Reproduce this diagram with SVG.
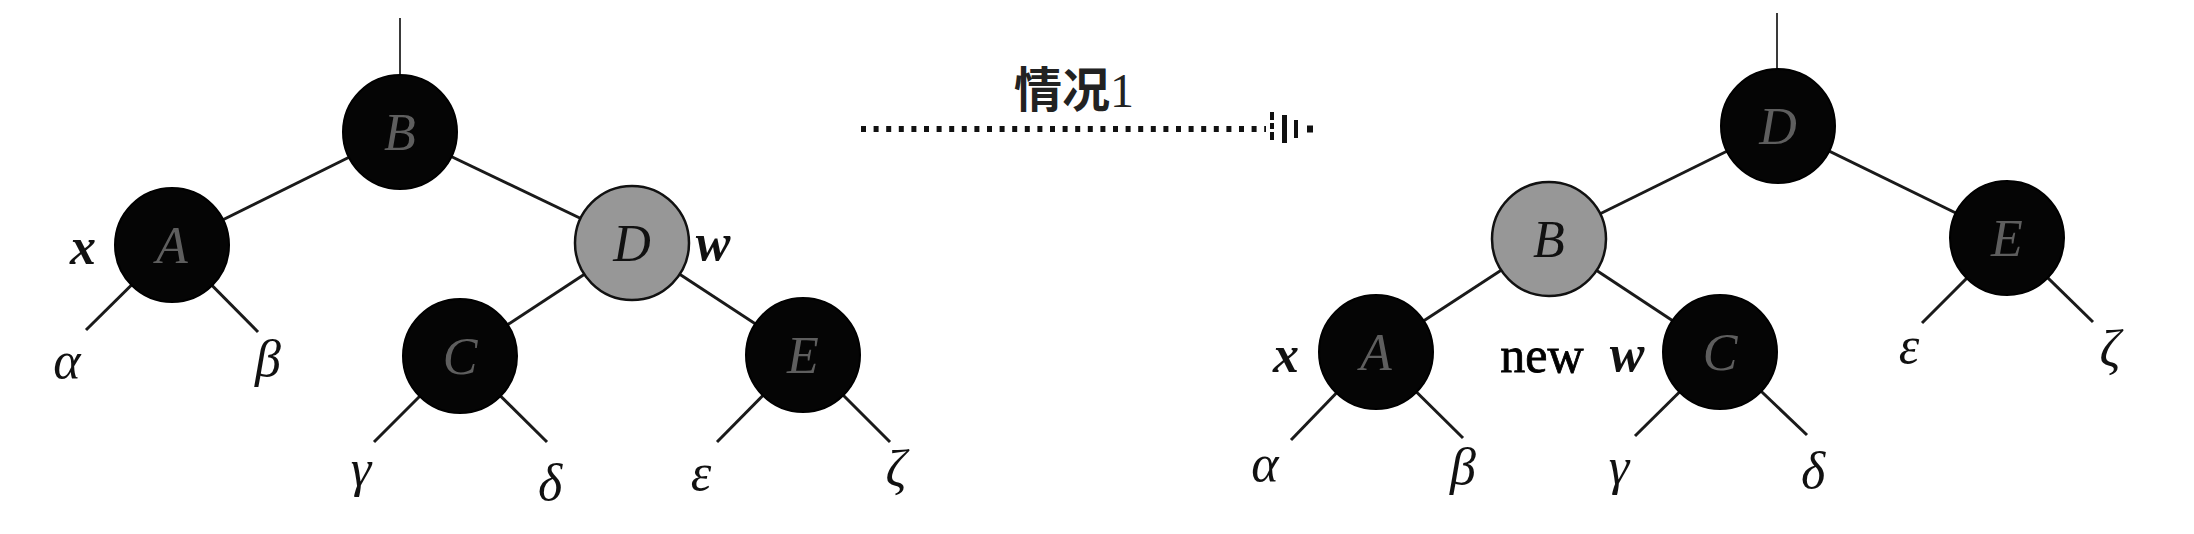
<svg xmlns="http://www.w3.org/2000/svg" width="2194" height="534" viewBox="0 0 2194 534">
<style>
.edge{stroke:#1a1a1a;stroke-width:3;fill:none}
.top{stroke:#3a3a3a;stroke-width:2;fill:none}
.blk{fill:#050505;stroke:#000;stroke-width:2}
.gry{fill:#979797;stroke:#111;stroke-width:2.5}
.nl{font-family:"Liberation Serif",serif;font-style:italic;font-size:52px;text-anchor:middle}
.nlb{fill:#5e5e5e}
.nlg{fill:#111}
.lab{font-family:"Liberation Serif",serif;font-style:italic;font-size:52px;text-anchor:middle;fill:#111}
.bold{font-weight:bold}
.up{font-family:"Liberation Serif",serif;font-size:50px;text-anchor:middle;fill:#000;stroke:#000;stroke-width:0.8}
.cap{font-family:"Liberation Serif","Noto Sans CJK SC",sans-serif;font-size:48px;font-weight:bold;fill:#222}
</style>
<rect width="2194" height="534" fill="#fff"/>
<g id="connectors">
  <!-- left tree -->
  <line class="top" x1="400" y1="18" x2="400" y2="80"/>
  <line class="edge" x1="400" y1="132" x2="172" y2="245"/>
  <line class="edge" x1="400" y1="132" x2="632" y2="243"/>
  <line class="edge" x1="632" y1="243" x2="460" y2="356"/>
  <line class="edge" x1="632" y1="243" x2="803" y2="355"/>
  <line class="edge" x1="172" y1="245" x2="86" y2="330"/>
  <line class="edge" x1="172" y1="245" x2="258" y2="332"/>
  <line class="edge" x1="460" y1="356" x2="374" y2="442"/>
  <line class="edge" x1="460" y1="356" x2="547" y2="442"/>
  <line class="edge" x1="803" y1="355" x2="717" y2="442"/>
  <line class="edge" x1="803" y1="355" x2="890" y2="442"/>
  <!-- right tree -->
  <line class="top" x1="1777" y1="13" x2="1777" y2="74"/>
  <line class="edge" x1="1778" y1="126" x2="1549" y2="239"/>
  <line class="edge" x1="1778" y1="126" x2="2007" y2="238"/>
  <line class="edge" x1="1549" y1="239" x2="1376" y2="352"/>
  <line class="edge" x1="1549" y1="239" x2="1720" y2="352"/>
  <line class="edge" x1="1376" y1="352" x2="1291" y2="440"/>
  <line class="edge" x1="1376" y1="352" x2="1463" y2="438"/>
  <line class="edge" x1="1720" y1="352" x2="1635" y2="436"/>
  <line class="edge" x1="1720" y1="352" x2="1807" y2="435"/>
  <line class="edge" x1="2007" y1="238" x2="1922" y2="323"/>
  <line class="edge" x1="2007" y1="238" x2="2093" y2="322"/>
  <!-- transition arrow -->
  <g id="arrow">
    <line x1="861" y1="129" x2="1266" y2="129" stroke="#111" stroke-width="6" stroke-dasharray="5 7.6"/>
    <line x1="1272" y1="112" x2="1272" y2="146" stroke="#111" stroke-width="4" stroke-dasharray="8 3 6 3 8"/>
    <rect x="1282" y="115" width="5" height="28" fill="#111"/>
    <rect x="1294" y="120" width="4" height="18" fill="#111"/>
    <rect x="1307" y="125.5" width="6" height="7" fill="#111"/>
  </g>
</g>
<text class="cap" x="1014" y="107">情况<tspan font-weight="normal">1</tspan></text>
<!-- left tree nodes -->
<g id="L_B"><circle class="blk" cx="400" cy="132" r="57"/><text class="nl nlb" x="400" y="150">B</text></g>
<g id="L_A"><circle class="blk" cx="172" cy="245" r="57"/><text class="nl nlb" x="172" y="263">A</text></g>
<g id="L_D"><circle class="gry" cx="632" cy="243" r="57"/><text class="nl nlg" x="632" y="261">D</text></g>
<g id="L_C"><circle class="blk" cx="460" cy="356" r="57"/><text class="nl nlb" x="460" y="374">C</text></g>
<g id="L_E"><circle class="blk" cx="803" cy="355" r="57"/><text class="nl nlb" x="803" y="373">E</text></g>
<g id="L_labels">
  <text class="lab bold" x="83" y="264">x</text>
  <text class="lab bold" x="713" y="260">w</text>
  <text class="lab" x="67" y="378">α</text>
  <text class="lab" x="268" y="376">β</text>
  <text class="lab" x="361" y="486">γ</text>
  <text class="lab" x="550" y="500">δ</text>
  <text class="lab" x="701" y="490">ε</text>
  <text class="lab" x="896" y="486">ζ</text>
</g>
<!-- right tree nodes -->
<g id="R_D"><circle class="blk" cx="1778" cy="126" r="57"/><text class="nl nlb" x="1778" y="144">D</text></g>
<g id="R_B"><circle class="gry" cx="1549" cy="239" r="57"/><text class="nl nlg" x="1549" y="257">B</text></g>
<g id="R_E"><circle class="blk" cx="2007" cy="238" r="57"/><text class="nl nlb" x="2007" y="256">E</text></g>
<g id="R_A"><circle class="blk" cx="1376" cy="352" r="57"/><text class="nl nlb" x="1376" y="370">A</text></g>
<g id="R_C"><circle class="blk" cx="1720" cy="352" r="57"/><text class="nl nlb" x="1720" y="370">C</text></g>
<g id="R_labels">
  <text class="lab bold" x="1286" y="372">x</text>
  <text class="up" x="1542" y="372">new</text>
  <text class="lab bold" x="1627" y="371">w</text>
  <text class="lab" x="1265" y="481">α</text>
  <text class="lab" x="1463" y="484">β</text>
  <text class="lab" x="1619" y="484">γ</text>
  <text class="lab" x="1813" y="488">δ</text>
  <text class="lab" x="1909" y="363">ε</text>
  <text class="lab" x="2110" y="366">ζ</text>
</g>
</svg>
